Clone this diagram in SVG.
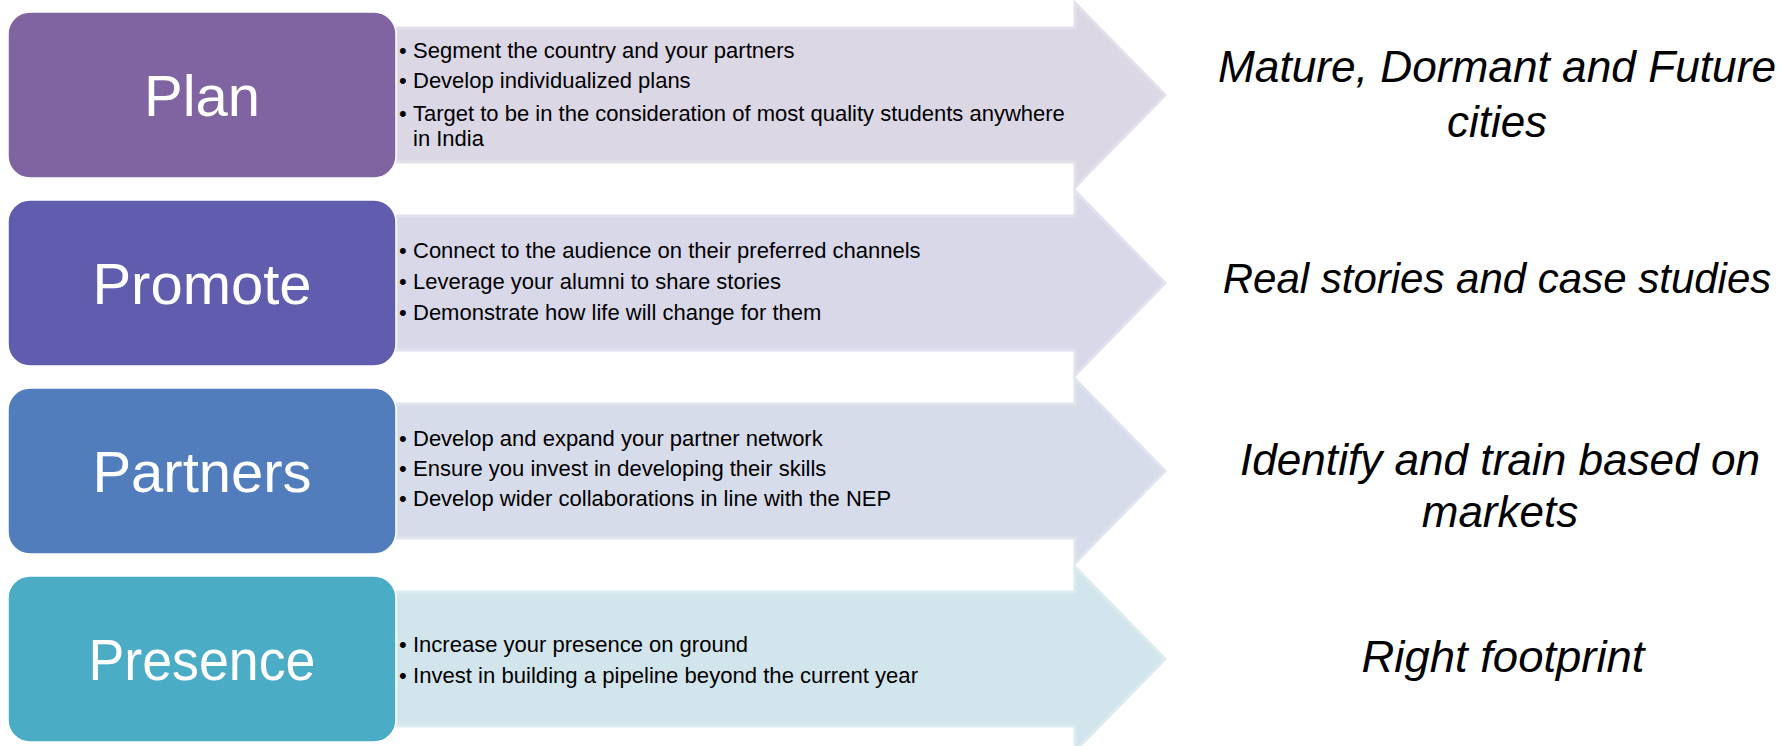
<svg xmlns="http://www.w3.org/2000/svg" width="1787" height="746" viewBox="0 0 1787 746">
<style>
.lbl{font-family:"Liberation Sans",Arial,sans-serif;font-size:58px;fill:#ffffff;text-anchor:middle}
.bt{font-family:"Liberation Sans",Arial,sans-serif;font-size:22px;fill:#000000}
.res{font-family:"Liberation Sans",Arial,sans-serif;font-style:italic;font-size:44px;fill:#000000;text-anchor:middle}
.box{stroke:#ffffff;stroke-width:1.5}
.arr{stroke-width:3;stroke-linejoin:miter}
</style>
<defs>
<path id="arrow" d="M396,28 H1075 V3 L1165,95 L1075,187 V162 H396 Z"/>
<rect id="box" x="8" y="12" width="388" height="166" rx="22" ry="22"/>
</defs>
<rect width="1787" height="746" fill="#ffffff"/>

<g id="row-plan">
  <g id="plan-arrow"><use href="#arrow" class="arr" fill="#DBD7E5" stroke="#E3E0EC"/></g>
  <g id="plan-box"><use href="#box" class="box" fill="#8064A2"/><text class="lbl" x="202" y="116">Plan</text></g>
  <g id="plan-points" class="bt">
    <text x="399" y="58">•</text><text x="413" y="58">Segment the country and your partners</text>
    <text x="399" y="88">•</text><text x="413" y="88">Develop individualized plans</text>
    <text x="399" y="121">•</text><text x="413" y="121">Target to be in the consideration of most quality students anywhere</text>
    <text x="413" y="146">in India</text>
  </g>
  <g id="plan-result"><text class="res" x="1497" y="82" textLength="558" lengthAdjust="spacingAndGlyphs">Mature, Dormant and Future</text><text class="res" x="1497" y="137">cities</text></g>
</g>

<g id="row-promote" transform="translate(0,188)">
  <g id="promote-arrow"><use href="#arrow" class="arr" fill="#D8D8E9" stroke="#E1E1EF"/></g>
  <g id="promote-box"><use href="#box" class="box" fill="#605CAE"/><text class="lbl" x="202" y="116">Promote</text></g>
  <g id="promote-points" class="bt">
    <text x="399" y="70">•</text><text x="413" y="70">Connect to the audience on their preferred channels</text>
    <text x="399" y="101">•</text><text x="413" y="101">Leverage your alumni to share stories</text>
    <text x="399" y="132">•</text><text x="413" y="132">Demonstrate how life will change for them</text>
  </g>
  <g id="promote-result"><text class="res" x="1497" y="105" style="font-size:42px">Real stories and case studies</text></g>
</g>

<g id="row-partners" transform="translate(0,376)">
  <g id="partners-arrow"><use href="#arrow" class="arr" fill="#D6DCEA" stroke="#DFE4EF"/></g>
  <g id="partners-box"><use href="#box" class="box" fill="#527DBD"/><text class="lbl" x="202" y="116">Partners</text></g>
  <g id="partners-points" class="bt">
    <text x="399" y="70">•</text><text x="413" y="70">Develop and expand your partner network</text>
    <text x="399" y="100">•</text><text x="413" y="100">Ensure you invest in developing their skills</text>
    <text x="399" y="130">•</text><text x="413" y="130">Develop wider collaborations in line with the NEP</text>
  </g>
  <g id="partners-result"><text class="res" x="1500" y="99" textLength="520" lengthAdjust="spacingAndGlyphs">Identify and train based on</text><text class="res" x="1500" y="151">markets</text></g>
</g>

<g id="row-presence" transform="translate(0,564)">
  <g id="presence-arrow"><use href="#arrow" class="arr" fill="#D3E5EC" stroke="#DCEBF0"/></g>
  <g id="presence-box"><use href="#box" class="box" fill="#4BACC6"/><text class="lbl" x="202" y="116" textLength="227" lengthAdjust="spacingAndGlyphs">Presence</text></g>
  <g id="presence-points" class="bt">
    <text x="399" y="88">•</text><text x="413" y="88">Increase your presence on ground</text>
    <text x="399" y="119">•</text><text x="413" y="119" textLength="505" lengthAdjust="spacingAndGlyphs">Invest in building a pipeline beyond the current year</text>
  </g>
  <g id="presence-result"><text class="res" x="1503" y="108" textLength="283" lengthAdjust="spacingAndGlyphs">Right footprint</text></g>
</g>

<g id="connectors"></g>
</svg>
